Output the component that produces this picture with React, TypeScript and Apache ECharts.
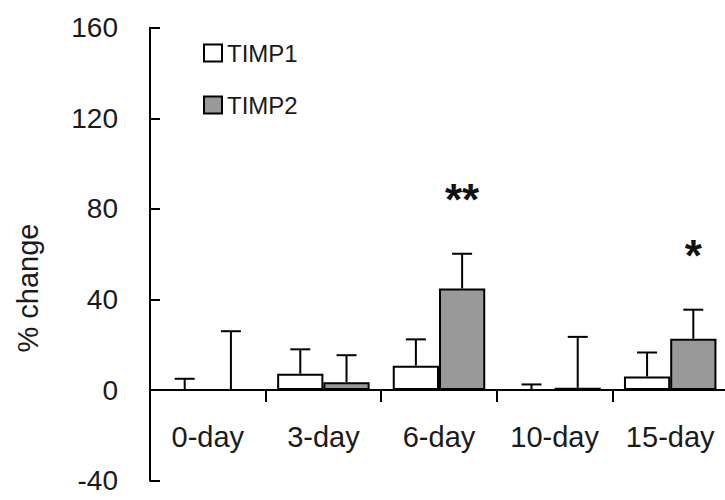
import React, { useEffect, useRef } from "react";
import * as echarts from "echarts";

const categories = ["0-day", "3-day", "6-day", "10-day", "15-day"];
const timp1 = [0, 7.2, 10.8, 0, 6];
const timp1Err = [5, 10.8, 11.6, 2.5, 10.6];
const timp2 = [0, 3.5, 44.9, 1, 22.7];
const timp2Err = [26, 11.9, 15.3, 22.5, 12.8];
const significance = ["", "", "**", "", "*"];
const yMin = -40;
const yMax = 160;
const yInterval = 40;

const FONT = "Liberation Sans, Arial, sans-serif";
const TEXT = "#1a1a1a";

export default function App() {
  const ref = useRef<HTMLDivElement>(null);
  useEffect(() => {
    if (!ref.current) return;
    const chart = echarts.init(ref.current, null, { renderer: "svg" });
    const gap = 0.2;
    const errRender = (sIdx: number, vals: number[], errs: number[]) =>
      (params: any, api: any) => {
        const i = api.value(0);
        const v = vals[i];
        const e = errs[i];
        const band = api.size([1, 0])[0];
        const bw = (band * (1 - gap)) / 2;
        const off = (sIdx === 0 ? -1 : 1) * bw / 2;
        const base = api.coord([i, v]);
        const top = api.coord([i, v + e]);
        const x = base[0] + off;
        const cap = 10;
        const children: any[] = [
          { type: "line", shape: { x1: x, y1: base[1], x2: x, y2: top[1] }, style: { stroke: "#000", lineWidth: 2 } },
          { type: "line", shape: { x1: x - cap, y1: top[1], x2: x + cap, y2: top[1] }, style: { stroke: "#000", lineWidth: 2 } },
        ];
        if (sIdx === 1 && significance[i]) {
          children.push({
            type: "text",
            x: x,
            y: top[1] - 54,
            style: {
              text: significance[i],
              font: `bold 44px ${FONT}`,
              fill: "#111",
              align: "center",
              verticalAlign: "middle",
            },
          });
        }
        return { type: "group", children };
      };
    chart.setOption({
      animation: false,
      grid: { left: 150, right: -3, top: 27.7, bottom: 19.3, containLabel: false, outerBoundsMode: "none" },
      legend: {
        data: ["TIMP1", "TIMP2"],
        orient: "vertical",
        left: 203,
        top: 41,
        padding: 0,
        itemWidth: 18,
        itemHeight: 17,
        itemGap: 28,
        icon: "rect",
        textStyle: { fontFamily: FONT, fontSize: 24, color: TEXT },
      },
      graphic: [
        {
          type: "text",
          x: 28,
          y: 288,
          rotation: Math.PI / 2,
          style: {
            text: "% change",
            font: `29px ${FONT}`,
            fill: TEXT,
            align: "center",
            verticalAlign: "middle",
          },
        },
      ],
      xAxis: {
        type: "category",
        data: categories,
        axisLine: { onZero: true, lineStyle: { color: "#000", width: 2 } },
        axisTick: { show: true, length: 12, interval: 0, lineStyle: { color: "#000", width: 2 } },
        axisLabel: { fontFamily: FONT, fontSize: 29, color: TEXT, margin: -58, interval: 0 },
        splitLine: { show: false },
      },
      yAxis: {
        type: "value",
        min: yMin,
        max: yMax,
        interval: yInterval,
        axisLine: { show: true, lineStyle: { color: "#000", width: 2 } },
        axisTick: { show: true, inside: true, length: 10, lineStyle: { color: "#000", width: 2 } },
        axisLabel: { fontFamily: FONT, fontSize: 28, color: TEXT, margin: 32 },
        splitLine: { show: false },
      },
      series: [
        {
          name: "TIMP1",
          type: "bar",
          data: timp1,
          barGap: "0%",
          barCategoryGap: "20%",
          itemStyle: { color: "#ffffff", borderColor: "#000", borderWidth: 2 },
        },
        {
          name: "TIMP2",
          type: "bar",
          data: timp2,
          barGap: "0%",
          barCategoryGap: "20%",
          itemStyle: { color: "#999999", borderColor: "#000", borderWidth: 2 },
        },
        {
          name: "err1",
          type: "custom",
          data: categories.map((_, i) => [i]),
          renderItem: errRender(0, timp1, timp1Err),
          z: 5,
        },
        {
          name: "err2",
          type: "custom",
          data: categories.map((_, i) => [i]),
          renderItem: errRender(1, timp2, timp2Err),
          z: 5,
        },
      ],
    });
    return () => chart.dispose();
  }, []);
  return <div ref={ref} style={{ width: 725, height: 500, position: "absolute", left: 0, top: 0 }} />;
}
